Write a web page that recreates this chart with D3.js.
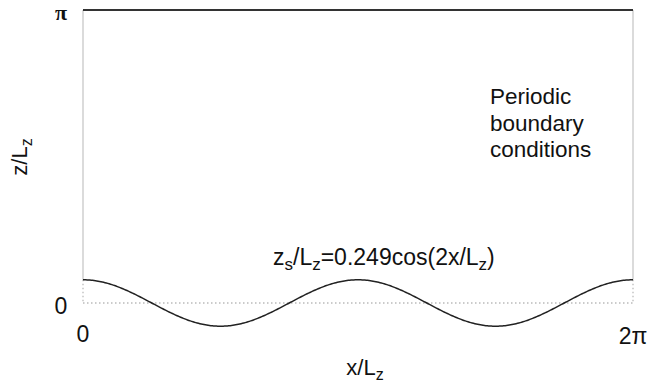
<!DOCTYPE html>
<html>
<head>
<meta charset="utf-8">
<script src="https://cdn.jsdelivr.net/npm/d3@7"></script>
<style>
  html, body { margin: 0; padding: 0; background: #fff; }
  svg { display: block; font-family: "Liberation Sans", Arial, Helvetica, sans-serif; }
</style>
</head>
<body>
<svg id="chart" width="648" height="382"></svg>
<script>
// Domain limits
const xDomain = [0, 2 * Math.PI];
const yDomain = [0, Math.PI];

// Tick values and their labels
const xTickValues = [0, 2 * Math.PI];
const xTickLabels = ["0", "2π"];
const yTickValues = [0, Math.PI];
const yTickLabels = ["0", "π"];

// Surface profile z_s/L_z = amplitude * cos(wavenumber * x/L_z)
const amplitude = [0.249];
const wavenumber = [2];
const sampleCount = [400];

// Annotation text
const noteLines = ["Periodic", "boundary", "conditions"];

const svg = d3.select("#chart");
const margin = { left: 83, right: 15, top: 10, bottom: 79 };
const W = 648, H = 382;

const x = d3.scaleLinear().domain(xDomain).range([margin.left, W - margin.right]);
const y = d3.scaleLinear().domain(yDomain).range([H - margin.bottom, margin.top]);

const surface = d3.range(sampleCount[0] + 1).map(i => {
  const xv = xDomain[0] + (xDomain[1] - xDomain[0]) * i / sampleCount[0];
  return [xv, amplitude[0] * Math.cos(wavenumber[0] * xv)];
});

const x0 = x(xDomain[0]), x1 = x(xDomain[1]);
const yTop = y(yDomain[1]), yZero = y(0);
const yLeftEnd = y(surface[0][1]);
const yRightEnd = y(surface[surface.length - 1][1]);

// dotted reference lines below the surface
const dotted = svg.append("g")
  .attr("stroke", "#bbb").attr("stroke-width", 1.3)
  .attr("stroke-dasharray", "1.5,2.5").attr("fill", "none");
dotted.append("line").attr("x1", x0).attr("x2", x1).attr("y1", yZero).attr("y2", yZero);
dotted.append("line").attr("x1", x0).attr("x2", x0).attr("y1", yLeftEnd).attr("y2", yZero);
dotted.append("line").attr("x1", x1).attr("x2", x1).attr("y1", yRightEnd).attr("y2", yZero);

// periodic side boundaries
const sides = svg.append("g").attr("stroke", "#d2d2d2").attr("stroke-width", 1.6);
sides.append("line").attr("x1", x0).attr("x2", x0).attr("y1", yTop).attr("y2", yLeftEnd);
sides.append("line").attr("x1", x1).attr("x2", x1).attr("y1", yTop).attr("y2", yRightEnd);

// top boundary
svg.append("line")
  .attr("x1", x0).attr("x2", x1).attr("y1", yTop).attr("y2", yTop)
  .attr("stroke", "#333").attr("stroke-width", 2);

// surface curve
svg.append("path")
  .datum(surface)
  .attr("fill", "none")
  .attr("stroke", "#222")
  .attr("stroke-width", 1.5)
  .attr("d", d3.line().x(d => x(d[0])).y(d => y(d[1])));

// y tick labels
svg.append("g").selectAll("text")
  .data(yTickValues)
  .join("text")
  .attr("x", 61)
  .attr("y", d => y(d))
  .attr("dy", (d, i) => yTickLabels[i] === "π" ? 10 : 11)
  .attr("text-anchor", "middle")
  .attr("font-size", (d, i) => yTickLabels[i] === "π" ? 22 : 23)
  .attr("font-family", (d, i) => yTickLabels[i] === "π" ? "'Liberation Serif', 'DejaVu Serif', serif" : null)
  .attr("font-weight", (d, i) => yTickLabels[i] === "π" ? "bold" : null)
  .attr("fill", "#111")
  .text((d, i) => yTickLabels[i]);

// x tick labels
svg.append("g").selectAll("text")
  .data(xTickValues)
  .join("text")
  .attr("x", d => x(d))
  .attr("y", (d, i) => i === 1 ? 344 : 342)
  .attr("text-anchor", "middle")
  .attr("font-size", 23)
  .attr("fill", "#111")
  .text((d, i) => xTickLabels[i]);

// axis titles
const xTitle = svg.append("text")
  .attr("x", 365).attr("y", 375)
  .attr("text-anchor", "middle").attr("font-size", 22).attr("fill", "#111");
xTitle.append("tspan").text("x/L");
xTitle.append("tspan").attr("font-size", 16).attr("dy", 5).text("z");

const yTitle = svg.append("text")
  .attr("transform", "translate(27,157) rotate(-90)")
  .attr("text-anchor", "middle").attr("font-size", 22).attr("fill", "#111");
yTitle.append("tspan").text("z/L");
yTitle.append("tspan").attr("font-size", 16).attr("dy", 5).text("z");

// formula label
const formula = svg.append("text")
  .attr("x", 273).attr("y", 265)
  .attr("font-size", 23).attr("fill", "#111");
formula.append("tspan").text("z");
formula.append("tspan").attr("font-size", 17).attr("dy", 5).text("s");
formula.append("tspan").attr("dy", -5).text("/L");
formula.append("tspan").attr("font-size", 17).attr("dy", 5).text("z");
formula.append("tspan").attr("dy", -5).text("=" + amplitude[0] + "cos(" + wavenumber[0] + "x/L");
formula.append("tspan").attr("font-size", 17).attr("dy", 5).text("z");
formula.append("tspan").attr("dy", -5).text(")");

// boundary-condition note
const noteBaselines = [104, 131, 157];
svg.append("g").selectAll("text")
  .data(noteLines)
  .join("text")
  .attr("x", 490)
  .attr("y", (d, i) => noteBaselines[i])
  .attr("font-size", 22.5)
  .attr("fill", "#111")
  .text(d => d);
</script>
</body>
</html>
